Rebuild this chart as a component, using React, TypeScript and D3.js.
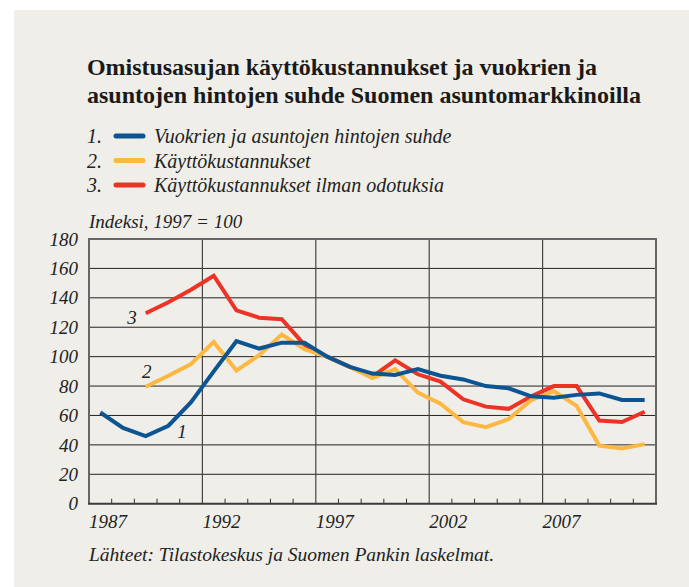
import * as d3 from "d3";
import React from "react";

// yearly values, plotted at mid-year
const years = d3.range(1987, 2012);
const rentPriceRatio = [62, 51.5, 46, 53, 69, 90, 110.5, 105.5, 109.5, 109.5, 100, 93, 88.5, 87.5, 91.5, 87, 84.5, 80, 78.5, 73, 72, 74, 75, 70.5, 70.5];
const userCost = [null, null, 79.5, 87, 95, 110, 90.5, 101, 115, 105, 100, 93, 85.5, 91.5, 75.5, 68, 55.5, 52, 57.5, 70.5, 76.5, 66.5, 39.5, 37.5, 40.5];
const userCostNoExp = [null, null, 129.5, 137, 145.5, 155, 131.5, 126.5, 125.5, 108, 100, 93, 86.5, 97.5, 88, 83, 71, 66, 64.5, 73, 80, 80, 56.5, 55.5, 62.5];

const seriesNames = ["Vuokrien ja asuntojen hintojen suhde", "Käyttökustannukset", "Käyttökustannukset ilman odotuksia"];
const seriesColors = ["#0d5592", "#fdb843", "#ec3325"];
const seriesData = [rentPriceRatio, userCost, userCostNoExp];
// where the small numbers 1, 2, 3 sit next to the lines (year, value)
const lineLabels: [number, number][] = [[1991.1, 49.5], [1989.55, 90], [1988.9, 127]];

const yTicks = [0, 20, 40, 60, 80, 100, 120, 140, 160, 180];
const yearLabels = [1987, 1992, 1997, 2002, 2007];

const serif = "'Liberation Serif', 'Times New Roman', serif";

export default function App() {
  const W = 689, H = 587;
  const left = 89, right = 656, top = 239, bottom = 503.7;

  const x = d3.scaleLinear().domain([1987, 2012]).range([left, right]);
  const y = d3.scaleLinear().domain([0, 180]).range([bottom, top]);

  const line = d3.line<[number, number | null]>()
    .defined(d => d[1] != null)
    .x(d => x(d[0] + 0.5))
    .y(d => y(d[1] as number));

  const minorYears = d3.range(1988, 2012).filter(yr => !yearLabels.includes(yr));

  return (
    <svg width={W} height={H} style={{ position: "absolute", left: 0, top: 0 }} fontFamily={serif}>
      <rect x={0} y={0} width={W} height={H} fill="#ffffff" />
      <rect x={14} y={10} width={W - 14} height={H - 10} fill="#efeee8" />

      <text x={87} y={75} fontSize={24} fontWeight="bold" fill="#1a1a1a" textLength={510}>Omistusasujan käyttökustannukset ja vuokrien ja</text>
      <text x={87} y={103} fontSize={24} fontWeight="bold" fill="#1a1a1a" textLength={554}>asuntojen hintojen suhde Suomen asuntomarkkinoilla</text>

      {seriesNames.map((name, i) => {
        const cy = 136 + i * 24.5;
        return (
          <g key={name} fontStyle="italic" fontSize={20} fill="#222">
            <text x={87} y={cy + 7}>{i + 1}.</text>
            <line x1={116} x2={143} y1={cy} y2={cy} stroke={seriesColors[i]} strokeWidth={5} strokeLinecap="round" />
            <text x={154} y={cy + 7}>{name}</text>
          </g>
        );
      })}

      <text x={89} y={228} fontSize={19} fontStyle="italic" fill="#222">Indeksi, 1997 = 100</text>

      {yTicks.filter(v => v > 0 && v < 180).map(v => (
        <line key={v} x1={left} x2={right} y1={y(v)} y2={y(v)} stroke="#222" strokeWidth={1} />
      ))}
      {yearLabels.slice(1).map(yr => (
        <line key={yr} x1={x(yr)} x2={x(yr)} y1={top} y2={bottom} stroke="#444" strokeWidth={1.2} />
      ))}
      {minorYears.map(yr => (
        <line key={yr} x1={x(yr)} x2={x(yr)} y1={bottom} y2={bottom - 5} stroke="#333" strokeWidth={1} />
      ))}

      <path d={`M${left},${bottom}V${top}H${right}V${bottom}`} fill="none" stroke="#666" strokeWidth={2} />
      <line x1={left - 1} x2={right + 1} y1={bottom} y2={bottom} stroke="#3a3a3a" strokeWidth={2} />

      {seriesData.map((vals, i) => (
        <path key={i} d={line(years.map((yr, k) => [yr, vals[k]]) as [number, number | null][]) || ""}
          fill="none" stroke={seriesColors[i]} strokeWidth={4} strokeLinejoin="miter" />
      )).reverse()}

      {lineLabels.map((p, i) => (
        <text key={i} x={x(p[0])} y={y(p[1])} dy="0.35em" textAnchor="middle" fontSize={19} fontStyle="italic" fill="#222">{i + 1}</text>
      ))}

      {yTicks.map(v => (
        <text key={v} x={78} y={y(v)} dy="0.35em" textAnchor="end" fontSize={19} fontStyle="italic" fill="#222">{v}</text>
      ))}
      {yearLabels.map(yr => (
        <text key={yr} x={x(yr)} y={528} fontSize={19} fontStyle="italic" fill="#222">{yr}</text>
      ))}

      <text x={89} y={561} fontSize={19.5} fontStyle="italic" fill="#222">Lähteet: Tilastokeskus ja Suomen Pankin laskelmat.</text>
    </svg>
  );
}
